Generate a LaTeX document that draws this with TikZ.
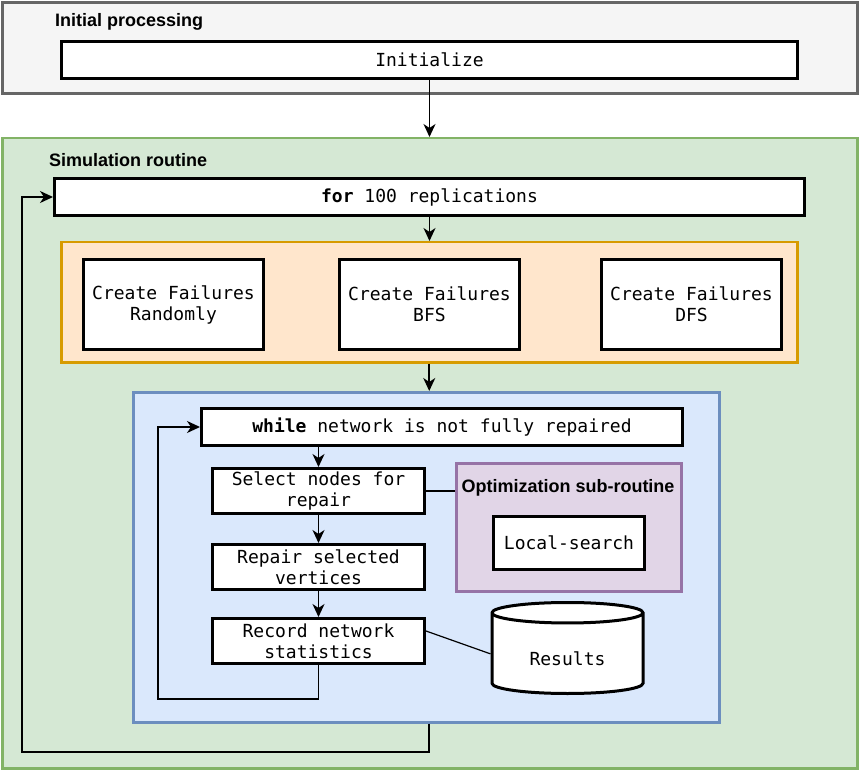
\documentclass[tikz,border=0pt]{standalone}
\usepackage{fontspec}
\setmainfont{Liberation Sans}
\setmonofont{DejaVu Sans Mono}
\usetikzlibrary{shapes.geometric, arrows.meta, positioning}
\definecolor{procfill}{HTML}{F5F5F5}
\definecolor{procline}{HTML}{666666}
\definecolor{simfill}{HTML}{D5E8D4}
\definecolor{simline}{HTML}{82B366}
\definecolor{failfill}{HTML}{FFE6CC}
\definecolor{failline}{HTML}{D79B00}
\definecolor{loopfill}{HTML}{DAE8FC}
\definecolor{loopline}{HTML}{6C8EBF}
\definecolor{optfill}{HTML}{E1D5E7}
\definecolor{optline}{HTML}{9673A6}
\tikzset{
  group/.style={rectangle, line width=2.5pt, anchor=north west, inner sep=0pt},
  stepbox/.style={rectangle, draw=black, fill=white, line width=3pt,
    anchor=north west, inner sep=0pt, align=center,
    font=\fontsize{18}{21}\selectfont\ttfamily},
  grouptitle/.style={font=\fontsize{18}{21}\selectfont\bfseries, inner sep=0pt},
  arrow/.style={-{Stealth[length=13pt, width=12pt, inset=4pt]}, line width=1.8pt},
  link/.style={line width=1.2pt},
}
\begin{document}
\begin{tikzpicture}[x=1pt, y=-1pt]
  \fill[white] (0,0) rectangle (860,770);

  % containers
  \node[group, draw=procline, fill=procfill, line width=3pt, minimum width=855pt, minimum height=91pt] (proc) at (1,1) {};
  \node[group, draw=simline, fill=simfill, minimum width=855pt, minimum height=630pt] (sim) at (1,137) {};
  \node[group, draw=failline, fill=failfill, minimum width=736pt, minimum height=120pt] (fails) at (60,241) {};
  \node[group, draw=loopline, fill=loopfill, minimum width=586pt, minimum height=330pt] (loop) at (132,391) {};
  \node[group, draw=optline, fill=optfill, minimum width=225pt, minimum height=128pt] (opt) at (455,462) {};

  \node[grouptitle, anchor=west] (proctitle) at (55,22) {Initial processing};
  \node[grouptitle, anchor=west] (simtitle) at (49,160) {Simulation routine};
  \node[grouptitle] (opttitle) at (568,488) {Optimization sub-routine};

  % steps
  \node[stepbox, minimum width=736pt, minimum height=37pt] (init) at (60,40) {Initialize};
  \node[stepbox, minimum width=750pt, minimum height=37pt] (for) at (53,177) {\textbf{for} 100 replications};
  \foreach \name/\x/\kind in {random/82/Randomly, bfs/338/BFS, dfs/600/DFS}{
    \node[stepbox, minimum width=180pt, minimum height=90pt] (\name) at (\x,258) {Create Failures\\\kind};
  }
  \node[stepbox, minimum width=481pt, minimum height=37pt] (while) at (200,407) {\textbf{while} network is not fully repaired};
  \node[stepbox, minimum width=212pt, minimum height=45pt] (select) at (211,467) {Select nodes for\\repair};
  \node[stepbox, minimum width=212pt, minimum height=45pt] (repair) at (211,543) {Repair selected\\vertices};
  \node[stepbox, minimum width=212pt, minimum height=45pt] (record) at (211,617) {Record network\\statistics};
  \node[stepbox, minimum width=151pt, minimum height=53pt] (local) at (492,515) {Local-search};
  \node[cylinder, shape border rotate=90, draw=black, fill=white, line width=3pt,
    minimum width=151pt, minimum height=91pt, aspect=0.27, inner sep=0pt,
    font=\fontsize{18}{21}\selectfont\ttfamily, anchor=north] (results) at (567.5,601) {\raisebox{-11.5pt}[0pt][0pt]{Results}};

  % flow
  \coordinate (innerturn) at (158,699);
  \coordinate (outerturn) at (22,752);
  \draw[arrow] (init.south) -- (init.south |- sim.north);
  \draw[arrow] (for.south) -- (for.south |- fails.north);
  \draw[arrow] (fails.south) -- (fails.south |- loop.north);
  \draw[arrow] (select.north |- while.south) -- (select.north);
  \draw[arrow] (select.south) -- (repair.north);
  \draw[arrow] (repair.south) -- (record.north);
  \draw[arrow] (record.south) |- (innerturn) |- (while.west);
  \draw[arrow] (fails.south |- loop.south) |- (outerturn) |- (for.west);
  \draw[link] (select.east) -- (select.east -| opt.west);
  \draw[link] ([yshift=10pt]record.east) -- (results.west);
\end{tikzpicture}
\end{document}
